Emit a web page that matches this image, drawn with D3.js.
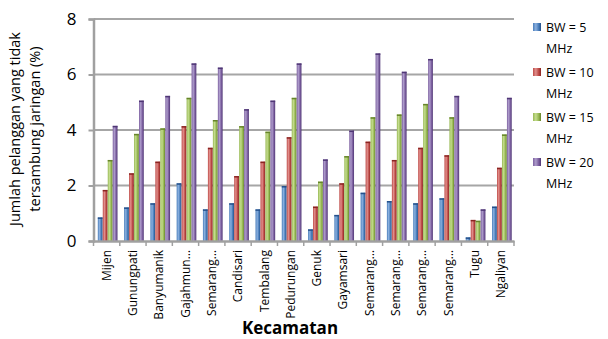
<!DOCTYPE html>
<html><head><meta charset="utf-8">
<script src="https://cdn.jsdelivr.net/npm/d3@7"></script>
<style>body{margin:0;background:#fff}svg{display:block}</style>
</head><body>
<svg id="c" width="608" height="339"></svg>
<script>
const categories = ["Mijen","Gunungpati","Banyumanik","Gajahmungkur","Semarang Selatan","Candisari","Tembalang","Pedurungan","Genuk","Gayamsari","Semarang Timur","Semarang Utara","Semarang Tengah","Semarang Barat","Tugu","Ngaliyan"];
const displayLabels = ["Mijen","Gunungpati","Banyumanik","Gajahmun…","Semarang…","Candisari","Tembalang","Pedurungan","Genuk","Gayamsari","Semarang…","Semarang…","Semarang…","Semarang…","Tugu","Ngaliyan"];
const seriesNames = ["BW = 5 MHz","BW = 10 MHz","BW = 15 MHz","BW = 20 MHz"];
const bw5  = [0.85,1.21,1.36,2.08,1.14,1.36,1.14,1.98,0.42,0.94,1.74,1.44,1.36,1.54,0.13,1.24];
const bw10 = [1.84,2.44,2.86,4.14,3.36,2.34,2.86,3.74,1.24,2.08,3.58,2.92,3.36,3.09,0.76,2.64];
const bw15 = [2.92,3.86,4.06,5.16,4.36,4.14,3.94,5.16,2.14,3.06,4.46,4.56,4.94,4.46,0.73,3.84];
const bw20 = [4.15,5.06,5.23,6.40,6.25,4.75,5.06,6.40,2.94,3.98,6.76,6.10,6.56,5.23,1.14,5.16];
const yTicks = [0,2,4,6,8];
const seriesValues = [bw5,bw10,bw15,bw20];
const colors = ["#4a7ebb","#be4b48","#98b954","#7d60a0"];
const darks = ["#24508a","#8a2522","#66842a","#4f3775"];
const lights = ["#8bb0df","#e08f8c","#c4dc8e","#ad9ccb"];

const svg = d3.select("#c");
const L = 93.5, R = 514, T = 19, B = 241;
const x = d3.scaleBand().domain(categories).range([L, R]).padding(0);
const xs = d3.scaleBand().domain(seriesNames).range([4.3, 24]).paddingInner(0.04);
const y = d3.scaleLinear().domain([0, 8]).range([B, T]);

const defs = svg.append("defs");
seriesNames.forEach((s, i) => {
  const g = defs.append("linearGradient").attr("id", "g" + i).attr("x1", "0").attr("x2", "1").attr("y1", "0").attr("y2", "0");
  g.append("stop").attr("offset", "0").attr("stop-color", colors[i]);
  g.append("stop").attr("offset", "0.35").attr("stop-color", lights[i]);
  g.append("stop").attr("offset", "0.7").attr("stop-color", colors[i]);
  g.append("stop").attr("offset", "1").attr("stop-color", darks[i]);
});

// gridlines
svg.append("g").selectAll("line").data(yTicks.filter(d => d > 0)).join("line")
  .attr("x1", L).attr("x2", R).attr("y1", d => y(d)).attr("y2", d => y(d))
  .attr("stroke", "#a6a6a6").attr("stroke-width", 2);

// bars
const gCat = svg.append("g").selectAll("g").data(categories).join("g")
  .attr("transform", d => `translate(${x(d)},0)`);
gCat.each(function(cat, ci) {
  const g = d3.select(this);
  seriesNames.forEach((s, si) => {
    const v = seriesValues[si][ci];
    g.append("rect").attr("x", xs(s)).attr("width", xs.bandwidth())
      .attr("y", y(v)).attr("height", y(0) - y(v)).attr("fill", `url(#g${si})`);
    g.append("rect").attr("x", xs(s)).attr("width", xs.bandwidth())
      .attr("y", y(v)).attr("height", 1.5).attr("fill", darks[si]);
  });
});

// y axis
const yAxis = svg.append("g").attr("transform", `translate(${L},0)`)
  .call(d3.axisLeft(y).tickValues(yTicks).tickSize(5).tickPadding(12).tickFormat(d3.format("d")));
yAxis.select(".domain").attr("stroke", "#a0a0a0").attr("stroke-width", 2.5);
yAxis.selectAll(".tick line").attr("stroke", "#a0a0a0").attr("stroke-width", 2);
yAxis.selectAll("text").attr("font-family", "Open Sans, sans-serif").attr("font-size", 17).attr("fill", "#000");

// x axis
const xAxis = svg.append("g").attr("transform", `translate(0,${B})`)
  .call(d3.axisBottom(x).tickSize(0).tickFormat((d, i) => displayLabels[i]));
xAxis.select(".domain").attr("stroke", "#a0a0a0").attr("stroke-width", 2.5);
xAxis.selectAll("text").attr("font-family", "Open Sans, sans-serif").attr("font-size", 12).attr("fill", "#000")
  .attr("transform", "rotate(-90)").attr("text-anchor", "end").attr("x", -9).attr("y", 0).attr("dy", "0.35em");
svg.append("g").selectAll("line").data(d3.range(categories.length + 1)).join("line")
  .attr("x1", i => L + i * x.step()).attr("x2", i => L + i * x.step())
  .attr("y1", B).attr("y2", B + 5).attr("stroke", "#a0a0a0").attr("stroke-width", 1.5);

// titles
svg.append("text").attr("transform", "translate(0,129) rotate(-90)")
  .attr("font-family", "Open Sans, sans-serif").attr("font-size", 14.5).attr("text-anchor", "middle")
  .selectAll("tspan").data(["Jumlah pelanggan yang tidak", "tersambung jaringan (%)"]).join("tspan")
  .attr("x", 0).attr("y", (d, i) => 20 + i * 20).text(d => d);
svg.append("text").attr("x", 290).attr("y", 334).attr("text-anchor", "middle")
  .attr("font-family", "Open Sans, sans-serif").attr("font-size", 17).attr("font-weight", "bold").text("Kecamatan");

// legend
const lg = svg.append("g").selectAll("g").data(seriesNames).join("g")
  .attr("transform", (d, i) => `translate(533,${23 + i * 45})`);
lg.append("rect").attr("width", 8).attr("height", 8).attr("fill", (d, i) => `url(#g${i})`);
lg.append("text").attr("font-family", "Open Sans, sans-serif").attr("font-size", 12.5)
  .selectAll("tspan").data(d => [d.replace(" MHz", ""), "MHz"]).join("tspan")
  .attr("x", 13).attr("y", (d, i) => 9 + i * 21).text(d => d);
</script>
</body></html>
